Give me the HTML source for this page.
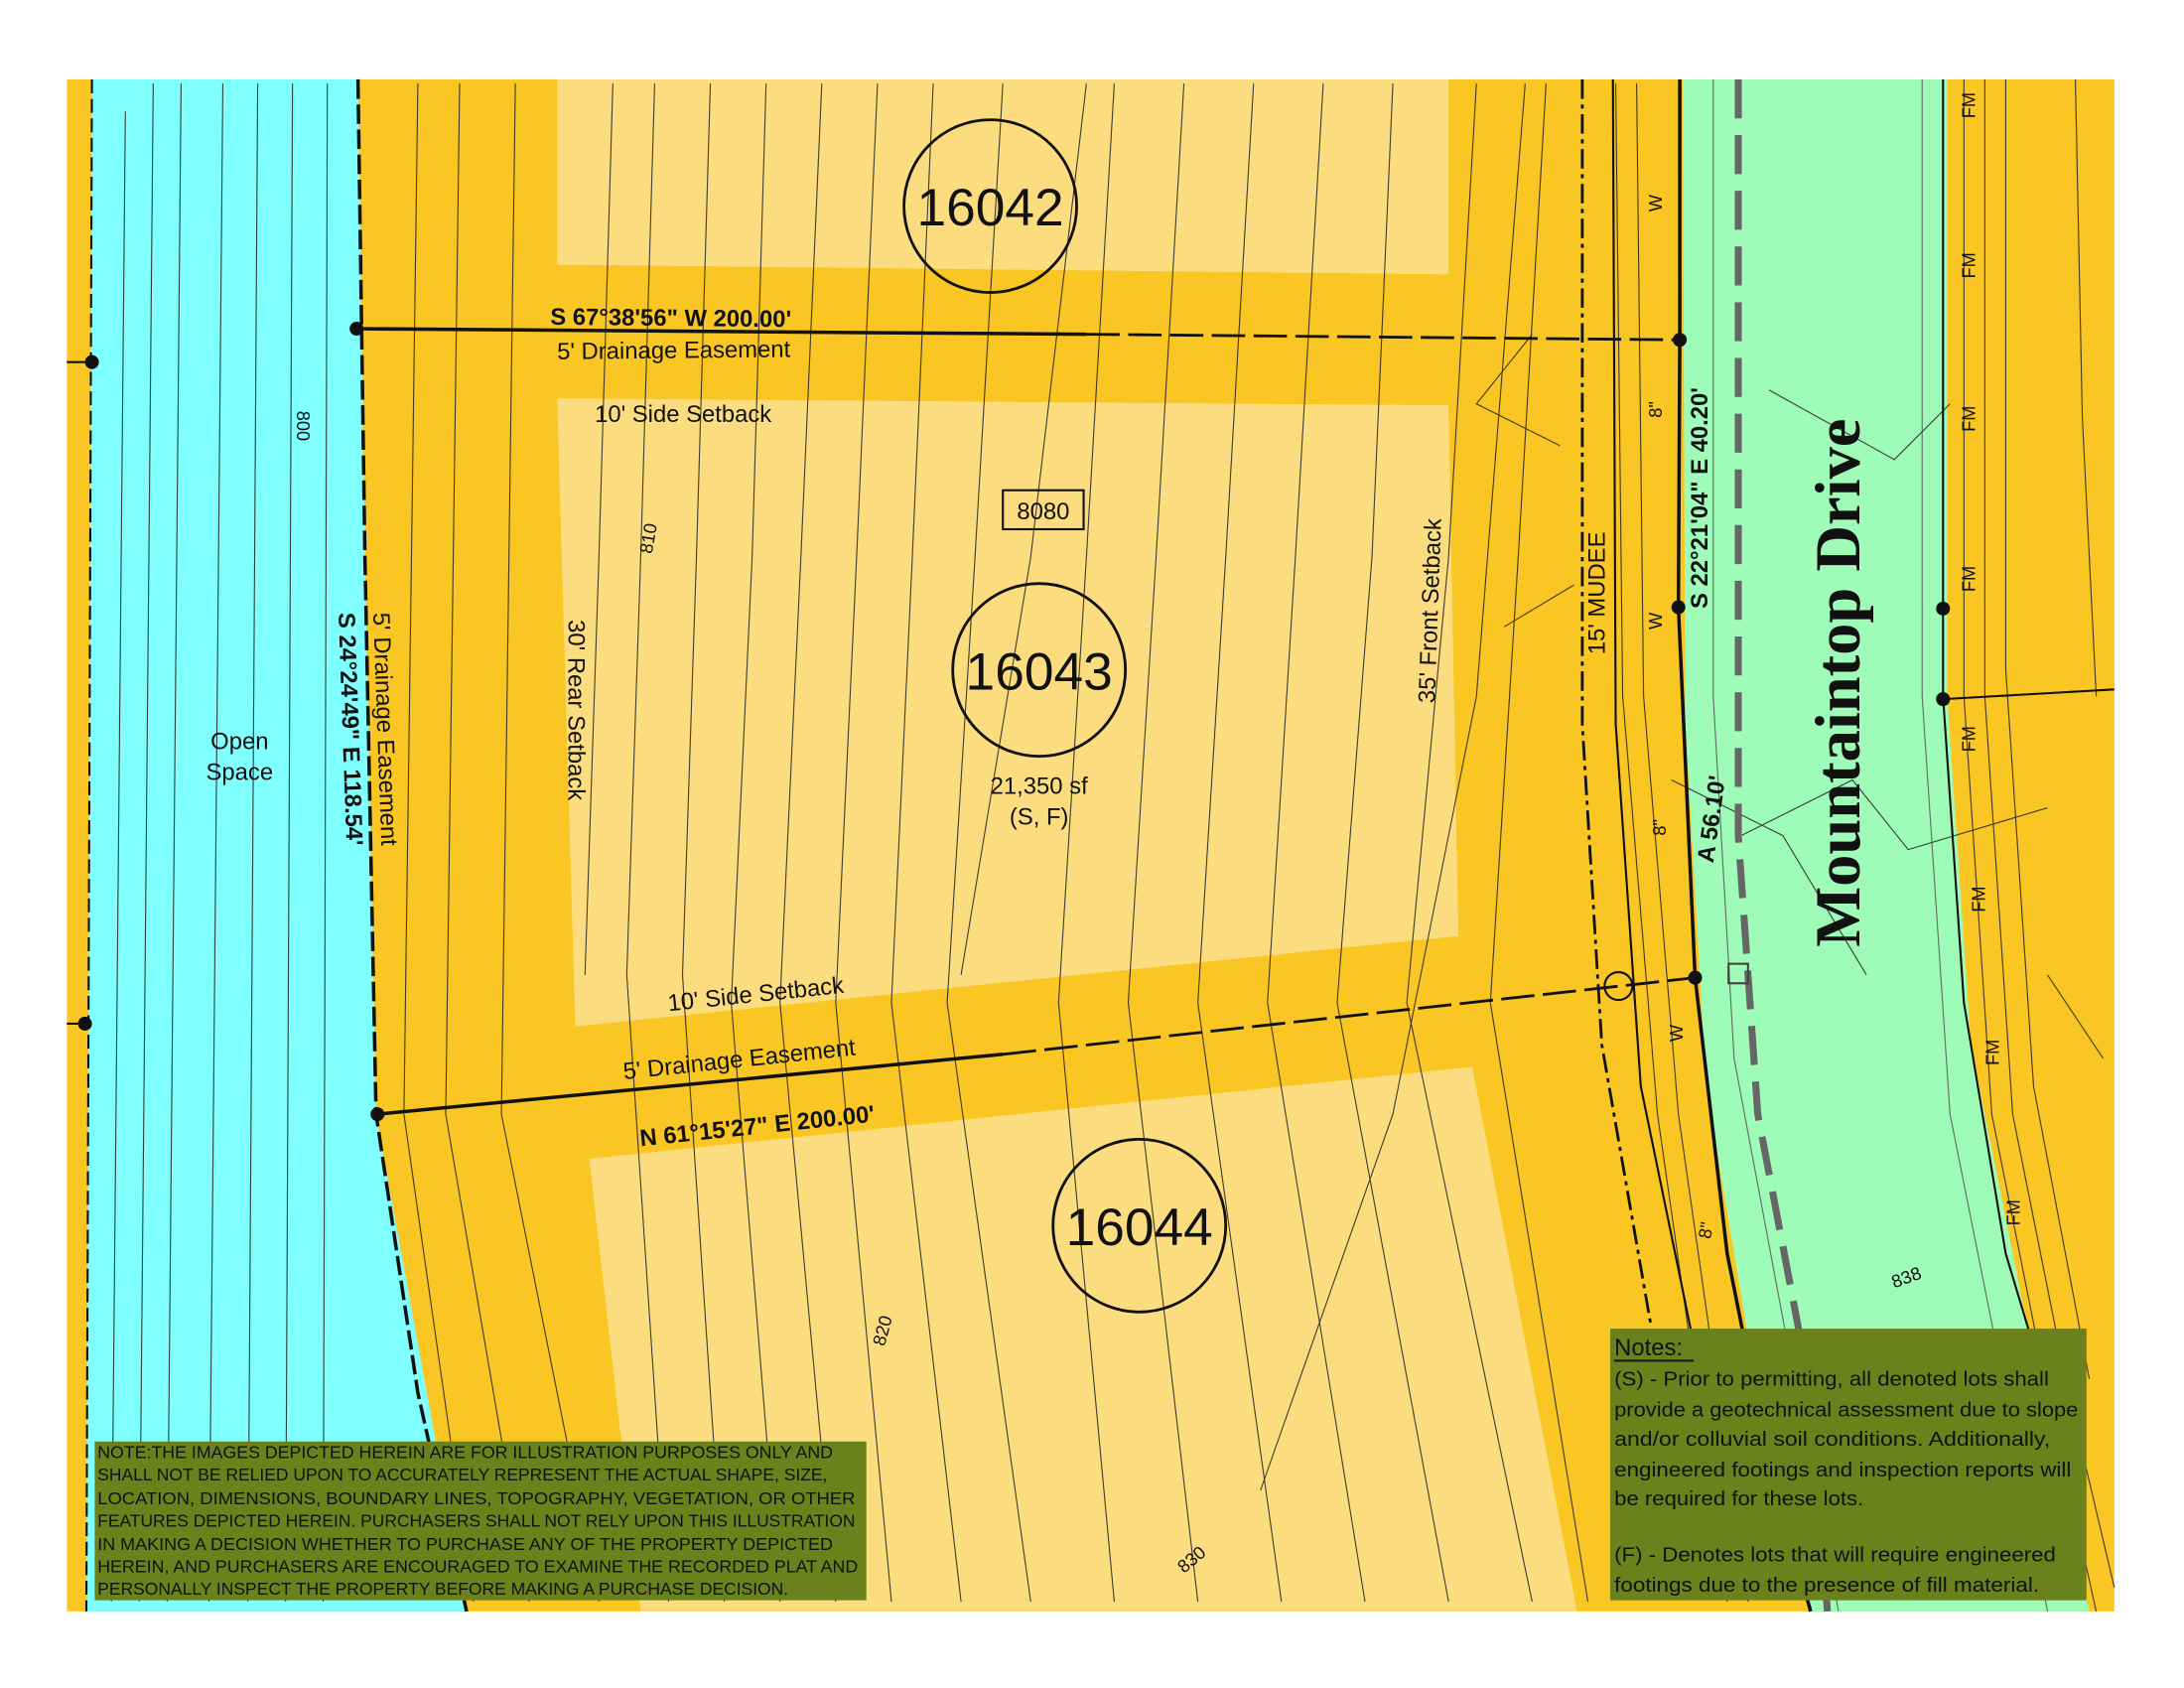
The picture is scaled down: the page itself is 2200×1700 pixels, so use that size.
<!DOCTYPE html>
<html><head><meta charset="utf-8"><style>
html,body{margin:0;padding:0;background:#fff}
svg{display:block}
text{font-family:"Liberation Sans",sans-serif;fill:#111}
</style></head><body>
<svg width="2200" height="1700" viewBox="0 0 1568 1212" preserveAspectRatio="none" xmlns="http://www.w3.org/2000/svg">
<rect width="1568" height="1212" fill="#fff"/>
<rect x="48" y="57" width="1470" height="1100" fill="#FAC624"/>
<polygon points="66,57 257,57 262,400 270,800 335,1157 62,1157" fill="#80FFFF"/>
<polygon points="400,57 1040,57 1040,197 400,190" fill="#FBDD80"/>
<polygon points="400,286 1040,291 1047,672 413,737" fill="#FBDD80"/>
<polygon points="423,832 1057,766 1130,1145 1132,1157 460,1157" fill="#FBDD80"/>
<polygon points="1208,57 1398,57 1398,500 1415,750 1455,950 1500,1157 1300,1157 1255,960 1225,780 1210,520" fill="#9FFBB8"/>
<g stroke="#222" stroke-width="0.8" fill="none" opacity="0.85">
<path d="M90,80 L80,1150"/><path d="M110,60 L100,1150"/><path d="M130,60 L120,1150"/><path d="M160,60 L150,1150"/><path d="M185,60 L178,1150"/><path d="M210,60 L205,1150"/><path d="M235,60 L232,1150"/>
<path d="M300,60 L290,800 L340,1150"/><path d="M330,60 L320,800 L380,1150"/><path d="M370,60 L360,800 L430,1150"/>
<path d="M440,60 L430,400 L420,700"/><path d="M470,60 L460,400 L450,700 L480,1150"/><path d="M510,60 L500,400 L490,700 L520,1150"/>
<path d="M550,60 L540,400 L525,720 L560,1150"/><path d="M590,60 L575,400 L560,720 L600,1150"/><path d="M630,60 L615,400 L600,720 L640,1150"/>
<path d="M670,60 L655,400 L640,720 L690,1150"/><path d="M720,60 L700,400 L680,720 L740,1150"/><path d="M780,60 L740,400 L690,700"/>
<path d="M800,60 L780,400 L760,720 L800,1150"/><path d="M850,60 L830,400 L810,720 L860,1150"/><path d="M900,60 L880,400 L860,720 L920,1150"/>
<path d="M950,60 L930,400 L910,720 L980,1150"/><path d="M1000,60 L985,400 L960,720 L1040,1150"/><path d="M1060,60 L1040,400 L1010,720 L1100,1150"/>
<path d="M1095,60 L1060,500 L1000,800 L905,1070"/><path d="M1110,60 L1090,400 L1070,720 L1140,1150"/>
<path d="M1160,60 L1165,500 L1190,800 L1240,1150"/><path d="M1175,60 L1180,500 L1205,800 L1255,1150"/>
<path d="M1410,57 L1410,500 L1430,800 L1470,1000 L1505,1157"/><path d="M1425,57 L1425,500 L1445,800 L1485,1000 L1518,1140"/>
<path d="M1440,57 L1440,480 L1460,780 L1500,990"/><path d="M1490,57 L1495,300 L1505,500"/>
<path d="M1380,57 L1380,500 L1400,800 L1440,1000 L1470,1157" stroke="#555"/>
<path d="M1230,57 L1230,500 L1245,760 L1290,1000 L1320,1157" stroke="#555"/>
<path d="M1270,280 L1360,330 L1400,290"/><path d="M1250,600 L1330,560 L1370,610 L1470,580"/>
<path d="M1200,560 L1280,600 L1340,700"/><path d="M1470,700 L1510,760"/>
<path d="M1100,240 L1060,290 L1120,320"/><path d="M1080,450 L1130,420"/>
</g>
<g stroke="#111" stroke-width="1.5">
<path d="M1395,57 L1395,500 L1410,720 L1440,900 L1470,1000" fill="none"/>
<path d="M1395,502 L1518,495"/>
</g>
<g font-size="13">
<text transform="translate(1418,85) rotate(-90)">FM</text>
<text transform="translate(1418,200) rotate(-90)">FM</text>
<text transform="translate(1418,310) rotate(-90)">FM</text>
<text transform="translate(1418,425) rotate(-90)">FM</text>
<text transform="translate(1418,540) rotate(-90)">FM</text>
<text transform="translate(1425,655) rotate(-90)">FM</text>
<text transform="translate(1435,765) rotate(-90)">FM</text>
<text transform="translate(1450,880) rotate(-90)">FM</text>
</g>
<path d="M1248,57 L1248,600 L1262,800 L1300,1000 L1312,1157" stroke="#666" stroke-width="5" stroke-dasharray="28,12" fill="none"/>
<rect x="1241" y="692" width="14" height="14" fill="none" stroke="#444" stroke-width="1.5"/>
<path d="M1206,57 L1206,244 L1205,436 L1217,702 L1240,900 L1270,1050 L1300,1157" stroke="#111" stroke-width="2.5" fill="none"/>
<path d="M1136,57 L1136,520 L1150,750 L1185,950" stroke="#111" stroke-width="2" stroke-dasharray="14,4,3,4" fill="none"/>
<path d="M1158,57 L1160,520 L1178,780 L1215,960" stroke="#111" stroke-width="1.5" fill="none"/>
<path d="M257,57 L262,400 L270,800 L300,1000 L335,1157" stroke="#111" stroke-width="2.5" stroke-dasharray="14,4" fill="none"/>
<path d="M66,57 L62,1157" stroke="#111" stroke-width="1.5" stroke-dasharray="10,4" fill="none"/>
<path d="M48,260 L66,260 M48,735 L62,735" stroke="#111" stroke-width="1.5"/>
<path d="M256,236 L780,240" stroke="#111" stroke-width="2.5"/>
<path d="M780,240 L1206,244" stroke="#111" stroke-width="2" stroke-dasharray="24,6"/>
<path d="M271,800 L720,757" stroke="#111" stroke-width="2.5"/>
<path d="M720,757 L1217,702" stroke="#111" stroke-width="2" stroke-dasharray="24,6"/>
<circle cx="1162" cy="708" r="10" fill="none" stroke="#111" stroke-width="1.5"/>
<g fill="#111">
<circle cx="256" cy="236" r="5"/><circle cx="1206" cy="244" r="5"/><circle cx="1205" cy="436" r="5"/>
<circle cx="1217" cy="702" r="5"/><circle cx="271" cy="800" r="5"/><circle cx="66" cy="260" r="5"/>
<circle cx="61" cy="735" r="5"/><circle cx="1395" cy="437" r="5"/><circle cx="1395" cy="502" r="5"/>
</g>
<g fill="none" stroke="#111" stroke-width="2">
<circle cx="711" cy="148" r="62"/><circle cx="746" cy="481" r="62"/><circle cx="818" cy="880" r="62"/>
</g>
<g font-size="38" text-anchor="middle">
<text x="711" y="162">16042</text><text x="746" y="495">16043</text><text x="818" y="894">16044</text>
</g>
<rect x="720" y="352" width="58" height="28" fill="none" stroke="#111" stroke-width="1.5"/>
<text x="749" y="373" font-size="17" text-anchor="middle">8080</text>
<text x="746" y="570" font-size="17" text-anchor="middle" fill="#333">21,350 sf</text>
<text x="746" y="592" font-size="17" text-anchor="middle" fill="#333">(S, F)</text>
<g font-size="17">
<text transform="translate(395,233) rotate(0.6)" font-weight="bold">S 67°38'56" W  200.00'</text>
<text transform="translate(400,258) rotate(-0.6)">5' Drainage Easement</text>
<text x="427" y="303">10' Side Setback</text>
<text transform="translate(480,726) rotate(-6)">10' Side Setback</text>
<text transform="translate(448,775) rotate(-6)">5' Drainage Easement</text>
<text transform="translate(460,823) rotate(-6)" font-weight="bold">N 61°15'27" E   200.00'</text>
<text transform="translate(408,445) rotate(90)">30' Rear Setback</text>
<text transform="translate(268,440) rotate(88)">5' Drainage Easement</text>
<text transform="translate(243,440) rotate(88)" font-weight="bold">S 24°24'49" E  118.54'</text>
<text transform="translate(1030,505) rotate(-88)">35' Front Setback</text>
<text transform="translate(1152,470) rotate(-90)">15' MUDEE</text>
<text transform="translate(1226,437) rotate(-90)" font-weight="bold">S 22°21'04" E  40.20'</text>
<text transform="translate(1230,620) rotate(-82)" font-weight="bold">A 56.10'</text>
<text x="172" y="538" text-anchor="middle">Open</text>
<text x="172" y="560" text-anchor="middle">Space</text>
</g>
<g font-size="13" fill="#333">
<text transform="translate(1193,152) rotate(-90)">W</text><text transform="translate(1193,300) rotate(-90)">8"</text>
<text transform="translate(1193,452) rotate(-90)">W</text><text transform="translate(1196,600) rotate(-90)">8"</text>
<text transform="translate(1208,748) rotate(-90)">W</text><text transform="translate(1228,890) rotate(-80)">8"</text>
<text transform="translate(213,295) rotate(90)">800</text><text transform="translate(468,398) rotate(-80)">810</text>
<text transform="translate(635,967) rotate(-75)">820</text><text transform="translate(850,1130) rotate(-40)">830</text>
<text transform="translate(1360,925) rotate(-20)">838</text>
</g>
<text transform="translate(1335,680) rotate(-90)" font-size="46" font-weight="bold" style="font-family:'Liberation Serif',serif">Mountaintop Drive</text>
<rect x="68" y="1035" width="554" height="114" fill="#6A811C"/>
<g font-size="12.2" fill="#111">
<text x="70" y="1047" textLength="528" lengthAdjust="spacingAndGlyphs">NOTE:THE IMAGES DEPICTED HEREIN ARE FOR ILLUSTRATION PURPOSES ONLY AND</text>
<text x="70" y="1063" textLength="524" lengthAdjust="spacingAndGlyphs">SHALL NOT BE RELIED UPON TO ACCURATELY REPRESENT THE ACTUAL SHAPE, SIZE,</text>
<text x="70" y="1080" textLength="544" lengthAdjust="spacingAndGlyphs">LOCATION, DIMENSIONS, BOUNDARY LINES, TOPOGRAPHY, VEGETATION, OR OTHER</text>
<text x="70" y="1096" textLength="544" lengthAdjust="spacingAndGlyphs">FEATURES DEPICTED HEREIN. PURCHASERS SHALL NOT RELY UPON THIS ILLUSTRATION</text>
<text x="70" y="1113" textLength="528" lengthAdjust="spacingAndGlyphs">IN MAKING A DECISION WHETHER TO PURCHASE ANY OF THE PROPERTY DEPICTED</text>
<text x="70" y="1129" textLength="546" lengthAdjust="spacingAndGlyphs">HEREIN, AND PURCHASERS ARE ENCOURAGED TO EXAMINE THE RECORDED PLAT AND</text>
<text x="70" y="1145" textLength="496" lengthAdjust="spacingAndGlyphs">PERSONALLY INSPECT THE PROPERTY BEFORE MAKING A PURCHASE DECISION.</text>
</g>
<rect x="1156" y="954" width="342" height="195" fill="#6A811C"/>
<g font-size="14.5" fill="#111">
<text x="1159" y="973" font-size="17">Notes:</text>
<path d="M1159,977 L1216,977" stroke="#111" stroke-width="1.5"/>
<text x="1159" y="995" textLength="312" lengthAdjust="spacingAndGlyphs">(S) - Prior to permitting, all denoted lots shall</text>
<text x="1159" y="1017" textLength="333" lengthAdjust="spacingAndGlyphs">provide a geotechnical assessment due to slope</text>
<text x="1159" y="1038" textLength="313" lengthAdjust="spacingAndGlyphs">and/or colluvial soil conditions.  Additionally,</text>
<text x="1159" y="1060" textLength="328" lengthAdjust="spacingAndGlyphs">engineered footings and inspection reports will</text>
<text x="1159" y="1081" textLength="179" lengthAdjust="spacingAndGlyphs">be required for these lots.</text>
<text x="1159" y="1121" textLength="317" lengthAdjust="spacingAndGlyphs">(F) - Denotes lots that will require engineered</text>
<text x="1159" y="1143" textLength="305" lengthAdjust="spacingAndGlyphs">footings due to the presence of fill material.</text>
</g>
</svg>
</body></html>
